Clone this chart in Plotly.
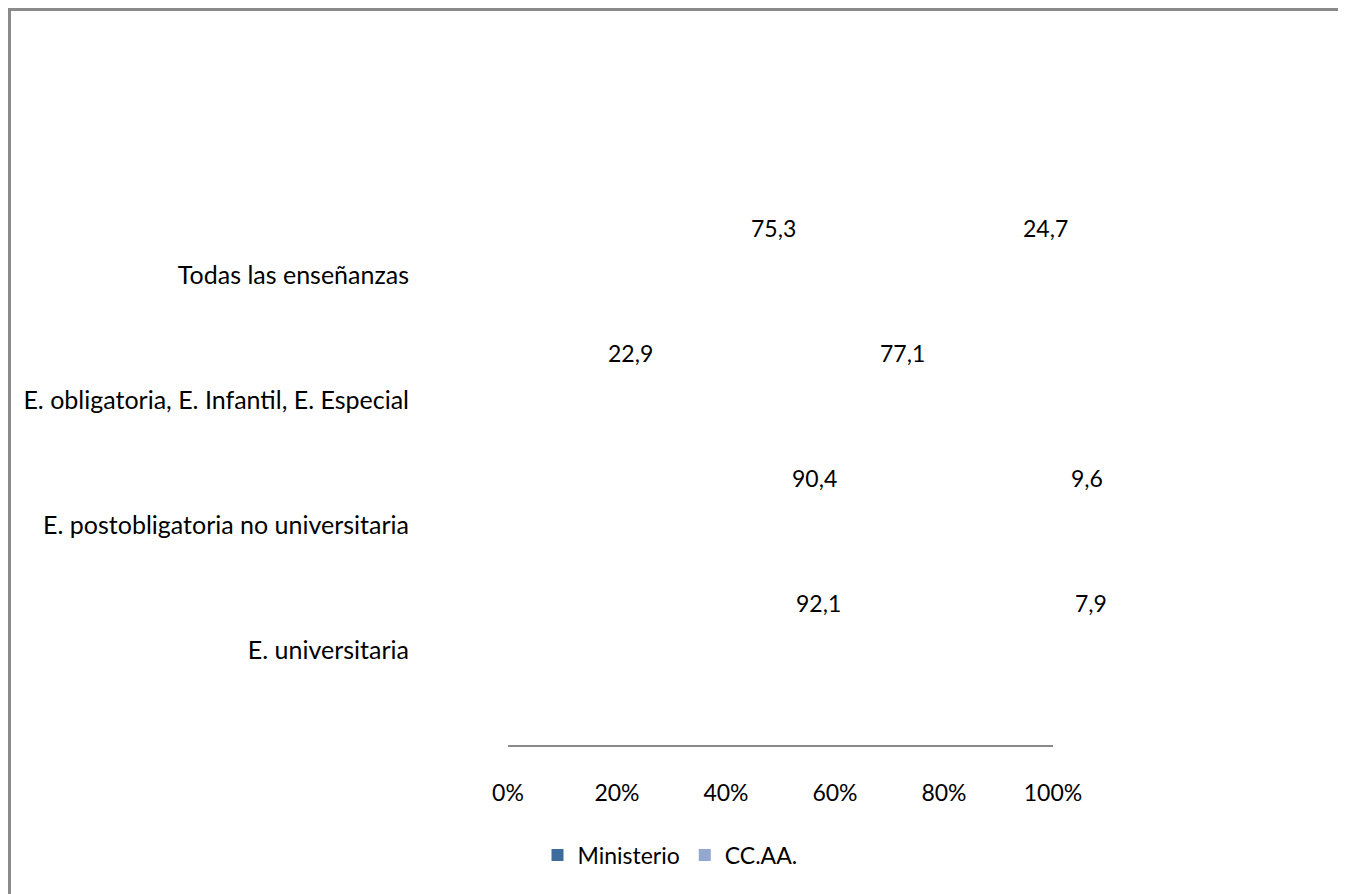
import plotly.graph_objects as go

categories = ["Todas las enseñanzas",
              "E. obligatoria, E. Infantil, E. Especial",
              "E. postobligatoria no universitaria",
              "E. universitaria"]
ministerio = [75.3, 22.9, 90.4, 92.1]
ccaa = [24.7, 77.1, 9.6, 7.9]
series_names = ["Ministerio", "CC.AA."]
x_ticks = [0, 20, 40, 60, 80, 100]

# page body has an 8px margin, so the figure is laid out in page coords minus 8
W, H = 1338, 886
L, R = 500, 1045
T, B = 172, 737
FONT = "Lato"
FS = 23
FS_CAT = 25

def fmt(v):
    return f"{v:.1f}".replace(".", ",")

fig = go.Figure()
# bars are not visibly filled in the reference; keep them off the visible band
fig.add_trace(go.Bar(y=categories, x=ministerio, name=series_names[0], orientation="h",
                     width=0.5, offset=-20, marker=dict(color="#3d6b9e", line=dict(width=0))))
fig.add_trace(go.Bar(y=categories, x=ccaa, name=series_names[1], orientation="h",
                     width=0.5, offset=-20, marker=dict(color="#93a7cf", line=dict(width=0))))

annotations = []
for cat, m, c in zip(categories, ministerio, ccaa):
    for xm, v in ((m / 2, m), (m + c / 2, c)):
        annotations.append(dict(x=xm, y=cat, xref="x", yref="y", text=fmt(v),
                                showarrow=False, xshift=60, yshift=47,
                                font=dict(family=FONT, size=FS, color="#000")))

pw, ph = R - L, B - T
fig.update_layout(
    width=W, height=H, barmode="stack",
    margin=dict(l=L, r=W - R, t=T, b=H - B, pad=0),
    paper_bgcolor="white", plot_bgcolor="white",
    font=dict(family=FONT, size=FS, color="#000"),
    xaxis=dict(range=[0, 100], tickvals=x_ticks, ticktext=[f"{t}%" for t in x_ticks],
               showgrid=False, zeroline=False, showline=True, linecolor="#8a8a8a",
               linewidth=2, ticks="", ticklabelstandoff=26, fixedrange=True,
               tickfont=dict(family=FONT, size=FS)),
    yaxis=dict(categoryorder="array", categoryarray=categories,
               range=[3.76, -0.76], showgrid=False, zeroline=False, showline=False,
               ticks="", ticklabelstandoff=98, fixedrange=True,
               tickfont=dict(family=FONT, size=FS_CAT)),
    showlegend=True,
    legend=dict(orientation="h", traceorder="normal", x=(662 - L) / pw, xanchor="center",
                y=(B - 847) / ph, yanchor="middle", font=dict(family=FONT, size=FS),
                bgcolor="rgba(0,0,0,0)", itemwidth=30),
    annotations=annotations,
    shapes=[dict(type="rect", xref="paper", yref="paper",
                 x0=(1.5 - L) / pw, x1=(1332 - L) / pw,
                 y0=(B - 910) / ph, y1=(B - 1.5) / ph,
                 line=dict(color="#8a8a8a", width=3), fillcolor="rgba(0,0,0,0)")],
)

fig.write_html("out.html")
